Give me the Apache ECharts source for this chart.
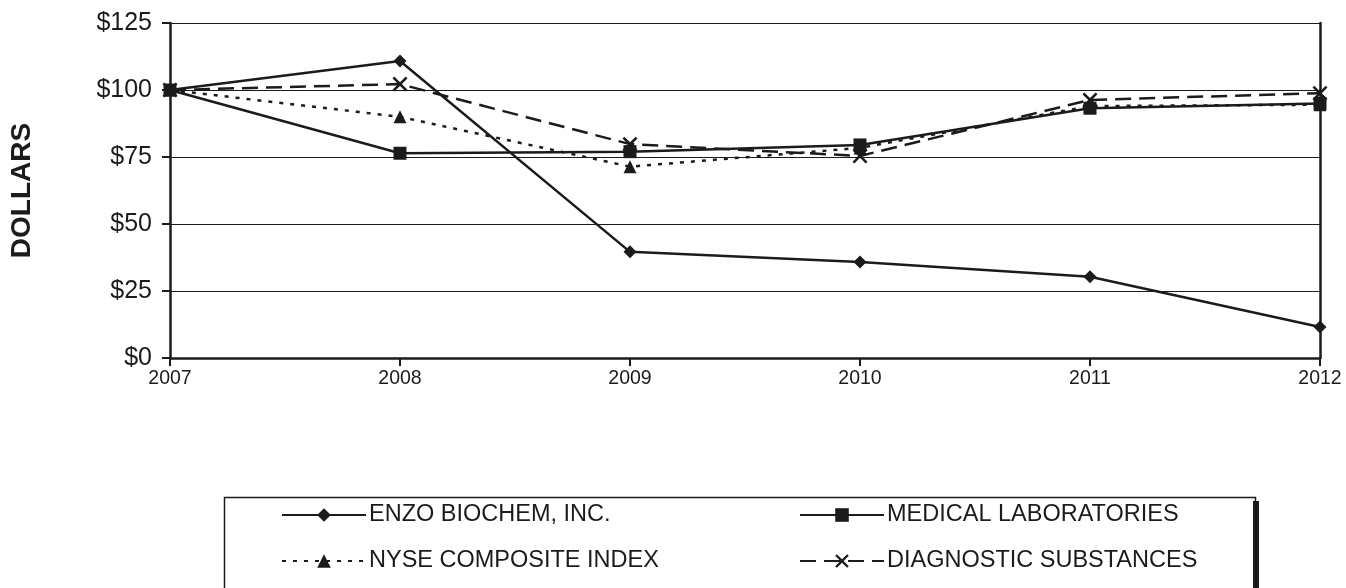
<!DOCTYPE html>
<html>
<head>
<meta charset="utf-8">
<script src="https://cdn.jsdelivr.net/npm/echarts@6/dist/echarts.min.js"></script>
<style>
html,body{margin:0;padding:0;background:#fff;}
#chart{width:1346px;height:588px;}
</style>
</head>
<body>
<div id="chart"></div>
<script>
const years = ['2007', '2008', '2009', '2010', '2011', '2012'];
const enzo = [100, 110.8, 39.6, 35.8, 30.3, 11.6];
const medical = [100, 76.4, 77.0, 79.5, 93.2, 95.0];
const nyse = [100, 90.0, 71.4, 78.4, 94.0, 94.5];
const diag = [100, 102.2, 79.8, 75.4, 96.3, 98.8];
const seriesNames = ['ENZO BIOCHEM, INC.', 'MEDICAL LABORATORIES', 'NYSE COMPOSITE INDEX', 'DIAGNOSTIC SUBSTANCES'];

const INK = '#1b1b1b';
const FONT = '"Liberation Sans", Arial, Helvetica, sans-serif';
const xPath = 'path://M0,1.2 L1.2,0 L5,3.8 L8.8,0 L10,1.2 L6.2,5 L10,8.8 L8.8,10 L5,6.2 L1.2,10 L0,8.8 L3.8,5 Z';

function legendFor(name, left, top, itemWidth) {
  return {
    data: [name], left: left, top: top, padding: 0,
    itemWidth: itemWidth, itemHeight: 17, itemGap: 0,
    textStyle: {color: INK, fontFamily: FONT, fontSize: 23.5, lineHeight: 24, padding: [0,0,0,-2]},
    selectedMode: false
  };
}

const chart = echarts.init(document.getElementById('chart'), null, {renderer: 'canvas'});
chart.setOption({
  backgroundColor: '#fff',
  animation: false,
  grid: {left: 168, right: 26, top: 23, bottom: 230},
  xAxis: {
    type: 'category', data: years, boundaryGap: false,
    axisLine: {show: true, lineStyle: {color: INK, width: 2.5}},
    axisTick: {show: true, alignWithLabel: true, length: 8, lineStyle: {color: INK, width: 2}},
    axisLabel: {color: INK, fontFamily: FONT, fontSize: 19.5, margin: 11},
    splitLine: {show: false}
  },
  yAxis: [{
    type: 'value', min: 0, max: 125, interval: 25,
    name: 'DOLLARS', nameLocation: 'middle', nameRotate: 90, nameGap: 134,
    nameTextStyle: {color: INK, fontFamily: FONT, fontSize: 28, fontWeight: 'bold'},
    axisLine: {show: true, lineStyle: {color: INK, width: 2.5}},
    axisTick: {show: true, length: 8, lineStyle: {color: INK, width: 2}},
    axisLabel: {color: INK, fontFamily: FONT, fontSize: 25, margin: 18, formatter: v => '$' + v},
    splitLine: {show: true, lineStyle: {color: INK, width: 1.2}}
  }, {
    type: 'value', min: 0, max: 125, interval: 25, position: 'right',
    axisLine: {show: true, lineStyle: {color: INK, width: 2.5}},
    axisTick: {show: false}, axisLabel: {show: false}, splitLine: {show: false}
  }],
  legend: [
    legendFor(seriesNames[0], 281, 503, 84),
    legendFor(seriesNames[1], 799, 503, 84),
    legendFor(seriesNames[2], 281, 549, 84),
    legendFor(seriesNames[3], 799, 549, 84)
  ],
  graphic: [
    {type: 'rect', left: 1253, top: 501, shape: {width: 6, height: 100}, style: {fill: INK}, silent: true},
    {type: 'rect', left: 222, top: 495, shape: {width: 1031, height: 100}, style: {fill: 'none', stroke: INK, lineWidth: 1.5}, silent: true}
  ],
  series: [
    {name: seriesNames[0], type: 'line', data: enzo, symbol: 'diamond', symbolSize: 13,
     lineStyle: {color: INK, width: 2.5, type: 'solid'}, itemStyle: {color: INK}, z: 5},
    {name: seriesNames[1], type: 'line', data: medical, symbol: 'rect', symbolSize: 13,
     lineStyle: {color: INK, width: 2.5, type: 'solid'}, itemStyle: {color: INK}, z: 4},
    {name: seriesNames[2], type: 'line', data: nyse, symbol: 'triangle', symbolSize: 13,
     lineStyle: {color: INK, width: 2.5, type: [4, 7]}, itemStyle: {color: INK}, z: 3},
    {name: seriesNames[3], type: 'line', data: diag, symbol: xPath, symbolSize: 15,
     lineStyle: {color: INK, width: 2.5, type: [16, 8]}, itemStyle: {color: INK}, z: 2}
  ]
});
</script>
</body>
</html>
